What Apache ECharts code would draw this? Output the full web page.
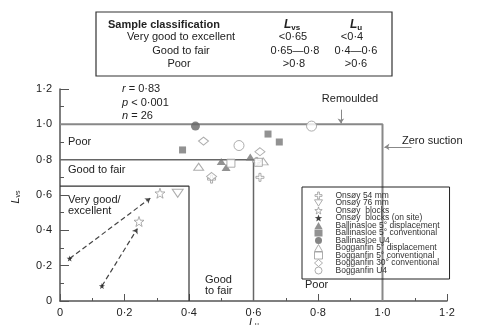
<!DOCTYPE html>
<html>
<head>
<meta charset="utf-8">
<script src="https://cdn.jsdelivr.net/npm/echarts@6/dist/echarts.min.js"></script>
<style>
  html, body { margin: 0; padding: 0; background: #fff; }
  #chart { width: 479px; height: 325px; }
</style>
</head>
<body>
<div id="chart"></div>
<script>
// Tick values on both axes
const tickValues = [0, 0.2, 0.4, 0.6, 0.8, 1.0, 1.2];

// Data points [Lu, Lvs]
const onsoy54 = [[0.47, 0.69], [0.61, 0.79], [0.62, 0.70]];
const onsoy76 = [[0.365, 0.61]];
const onsoyBlocks = [[0.31, 0.61], [0.245, 0.45]];
const onsoyOnSite = [[0.03, 0.24], [0.13, 0.085]];
const ball5disp = [[0.50, 0.79], [0.515, 0.755], [0.59, 0.815]];
const ball5conv = [[0.38, 0.855], [0.645, 0.945], [0.68, 0.90]];
const ballU4 = [[0.42, 0.99]];
const bog5disp = [[0.43, 0.76], [0.63, 0.79]];
const bog5conv = [[0.53, 0.78], [0.615, 0.785]];
const bog30conv = [[0.445, 0.905], [0.62, 0.845], [0.47, 0.705]];
const bogU4 = [[0.555, 0.88], [0.78, 0.99]];

// Arrows showing change from blocks on site to blocks
const arrowsFrom = [[0.03, 0.24], [0.13, 0.085]];
const arrowsTo = [[0.28, 0.582], [0.24, 0.41]];

// Classification boundaries
const zeroSuctionLine = [[0, 1.0], [1.0, 1.0], [1.0, 0]];
const goodFairLine = [[0, 0.8], [0.6, 0.8], [0.6, 0]];
const veryGoodLine = [[0, 0.65], [0.4, 0.65], [0.4, 0]];

const plusPath = 'path://M3,0L5,0L5,3L8,3L8,5L5,5L5,8L3,8L3,5L0,5L0,3L3,3Z';
const starPath = 'path://M5,0L6.2,3.5L10,3.6L7,5.9L8.1,9.5L5,7.4L1.9,9.5L3,5.9L0,3.6L3.8,3.5Z';
const downTriPath = 'path://M0,0L10,0L5,8Z';

const fmt = v => (v === 0 ? '0' : v.toFixed(1).replace('.', '·'));
const txtColor = '#222';
const font = 'Liberation Sans, Arial, sans-serif';

const chart = echarts.init(document.getElementById('chart'), null, { renderer: 'canvas' });

const openGrey = { color: '#fff', borderColor: '#999', borderWidth: 1 };
const fillGrey = { color: '#777', borderWidth: 0 };

// series definitions: name, data, symbol, size, style
const markerDefs = [
    ['Onsøy 54 mm', onsoy54, plusPath, 8, openGrey],
    ['Onsøy 76 mm', onsoy76, downTriPath, [11, 8], openGrey],
    ['Onsøy  blocks', onsoyBlocks, starPath, 10, openGrey],
    ['Onsøy  blocks (on site)', onsoyOnSite, starPath, 6, { color: '#111', borderWidth: 0 }],
    ['Ballinasloe 5° displacement', ball5disp, 'triangle', [9, 7], fillGrey],
    ['Ballinasloe 5° conventional', ball5conv, 'rect', 7, fillGrey],
    ['Ballinasloe U4', ballU4, 'circle', 9, { color: '#666', borderWidth: 0 }],
    ['Bogganfin 5° displacement', bog5disp, 'triangle', [10, 7], openGrey],
    ['Bogganfin 5° conventional', bog5conv, 'rect', 8, openGrey],
    ['Bogganfin 30° conventional', bog30conv, 'diamond', [10, 8], openGrey],
    ['Bogganfin U4', bogU4, 'circle', 10, openGrey]
];

function boundary(data, color, width) {
    return {
        type: 'line',
        data: data,
        symbol: 'none',
        silent: true,
        lineStyle: { color: color, width: width },
        z: 2
    };
}

const markerSeries = markerDefs.map(d => ({
    name: d[0],
    type: 'scatter',
    data: d[1],
    symbol: d[2],
    symbolSize: d[3],
    itemStyle: d[4],
    z: 5
}));

const legendData = markerDefs.map(d => ({
    name: d[0],
    icon: d[2],
    itemStyle: d[4]
}));

const option = {
    animation: false,
    textStyle: { fontFamily: font },
    grid: { left: 60, right: 32, top: 89, bottom: 24 },
    xAxis: {
        type: 'value',
        min: 0, max: 1.2, interval: 0.2,
        axisLine: { lineStyle: { color: '#555', width: 1.5 } },
        axisTick: { inside: true, length: 7, lineStyle: { color: '#555' } },
        minorTick: { show: true, splitNumber: 2, length: 3, lineStyle: { color: '#555' } },
        splitLine: { show: false },
        axisLabel: { formatter: fmt, color: txtColor, fontSize: 11, margin: 6, fontFamily: font }
    },
    yAxis: {
        type: 'value',
        min: 0, max: 1.2, interval: 0.2,
        axisLine: { show: true, lineStyle: { color: '#555', width: 1.5 } },
        axisTick: { show: true, inside: true, length: 9, lineStyle: { color: '#555' } },
        minorTick: { show: true, splitNumber: 2, length: 4, lineStyle: { color: '#555' } },
        splitLine: { show: false },
        axisLabel: { formatter: fmt, color: txtColor, fontSize: 11, margin: 8, fontFamily: font }
    },
    legend: {
        orient: 'vertical',
        left: 302, top: 187,
        padding: [4, 10, 4, 12],
        borderColor: '#222', borderWidth: 1,
        itemWidth: 8, itemHeight: 7, itemGap: -1.5,
        textStyle: { fontSize: 8.5, color: '#333', fontFamily: font, padding: [0, 0, 0, 8] },
        data: legendData
    },
    series: [
        boundary(zeroSuctionLine, '#888', 2),
        boundary(goodFairLine, '#666', 1.5),
        boundary(veryGoodLine, '#333', 1.2),
        {
            type: 'scatter',
            data: [],
            silent: true,
            markLine: {
                silent: true,
                symbol: ['none', 'arrow'],
                symbolSize: 5,
                label: { show: false },
                lineStyle: { color: '#444', type: [5, 3], width: 1.2 },
                data: arrowsFrom.map((p, i) => [{ coord: p }, { coord: arrowsTo[i] }])
            }
        },
        {
            type: 'scatter',
            data: [],
            silent: true,
            markLine: {
                silent: true,
                symbol: ['none', 'arrow'],
                symbolSize: 5,
                label: { show: false },
                lineStyle: { color: '#888', type: 'solid', width: 1 },
                data: [
                    [{ coord: [0.871, 1.083] }, { coord: [0.871, 1.005] }],
                    [{ coord: [1.09, 0.872] }, { coord: [1.006, 0.872] }]
                ]
            }
        }
    ].concat(markerSeries),
    graphic: [
        // classification table
        { type: 'rect', shape: { x: 96, y: 12, width: 296, height: 64 },
          style: { fill: '#fff', stroke: '#333', lineWidth: 1.2 } },
        { type: 'text', x: 108, y: 25, style: { text: 'Sample classification', font: 'bold 11px ' + font, fill: txtColor, verticalAlign: 'middle' } },
        { type: 'text', x: 292, y: 25, style: { text: '{l|L}{s|vs}', align: 'center', verticalAlign: 'middle',
            rich: { l: { font: 'italic bold 12px ' + font, fill: txtColor }, s: { font: 'bold 8px ' + font, fill: txtColor, padding: [6, 0, 0, 0] } } } },
        { type: 'text', x: 356, y: 25, style: { text: '{l|L}{s|u}', align: 'center', verticalAlign: 'middle',
            rich: { l: { font: 'italic bold 12px ' + font, fill: txtColor }, s: { font: 'bold 8px ' + font, fill: txtColor, padding: [6, 0, 0, 0] } } } },
        { type: 'text', x: 181, y: 37, style: { text: 'Very good to excellent', font: '11px ' + font, fill: txtColor, align: 'center', verticalAlign: 'middle' } },
        { type: 'text', x: 293, y: 37, style: { text: '<0·65', font: '11px ' + font, fill: txtColor, align: 'center', verticalAlign: 'middle' } },
        { type: 'text', x: 352, y: 37, style: { text: '<0·4', font: '11px ' + font, fill: txtColor, align: 'center', verticalAlign: 'middle' } },
        { type: 'text', x: 181, y: 51, style: { text: 'Good to fair', font: '11px ' + font, fill: txtColor, align: 'center', verticalAlign: 'middle' } },
        { type: 'text', x: 295, y: 51, style: { text: '0·65—0·8', font: '11px ' + font, fill: txtColor, align: 'center', verticalAlign: 'middle' } },
        { type: 'text', x: 356, y: 51, style: { text: '0·4—0·6', font: '11px ' + font, fill: txtColor, align: 'center', verticalAlign: 'middle' } },
        { type: 'text', x: 179, y: 64, style: { text: 'Poor', font: '11px ' + font, fill: txtColor, align: 'center', verticalAlign: 'middle' } },
        { type: 'text', x: 294, y: 64, style: { text: '>0·8', font: '11px ' + font, fill: txtColor, align: 'center', verticalAlign: 'middle' } },
        { type: 'text', x: 356, y: 64, style: { text: '>0·6', font: '11px ' + font, fill: txtColor, align: 'center', verticalAlign: 'middle' } },

        // statistics
        { type: 'text', x: 122, y: 89, style: { text: '{i|r} = 0·83', verticalAlign: 'middle', font: '11px ' + font, fill: txtColor, rich: { i: { font: 'italic 11px ' + font, fill: txtColor } } } },
        { type: 'text', x: 122, y: 103, style: { text: '{i|p} < 0·001', verticalAlign: 'middle', font: '11px ' + font, fill: txtColor, rich: { i: { font: 'italic 11px ' + font, fill: txtColor } } } },
        { type: 'text', x: 122, y: 116, style: { text: '{i|n} = 26', verticalAlign: 'middle', font: '11px ' + font, fill: txtColor, rich: { i: { font: 'italic 11px ' + font, fill: txtColor } } } },

        // zone labels
        { type: 'text', x: 68, y: 142, style: { text: 'Poor', font: '11px ' + font, fill: txtColor, verticalAlign: 'middle' } },
        { type: 'text', x: 68, y: 170, style: { text: 'Good to fair', font: '11px ' + font, fill: txtColor, verticalAlign: 'middle' } },
        { type: 'text', x: 68, y: 200, style: { text: 'Very good/', font: '11px ' + font, fill: txtColor, verticalAlign: 'middle' } },
        { type: 'text', x: 68, y: 211, style: { text: 'excellent', font: '11px ' + font, fill: txtColor, verticalAlign: 'middle' } },
        { type: 'text', x: 205, y: 280, style: { text: 'Good', font: '11px ' + font, fill: txtColor, verticalAlign: 'middle' } },
        { type: 'text', x: 205, y: 291, style: { text: 'to fair', font: '11px ' + font, fill: txtColor, verticalAlign: 'middle' } },
        { type: 'text', x: 305, y: 285, style: { text: 'Poor', font: '11px ' + font, fill: txtColor, verticalAlign: 'middle' } },
        { type: 'text', x: 350, y: 99, style: { text: 'Remoulded', font: '11px ' + font, fill: txtColor, align: 'center', verticalAlign: 'middle' } },
        { type: 'text', x: 402, y: 141, style: { text: 'Zero suction', font: '11px ' + font, fill: txtColor, verticalAlign: 'middle' } },

        // axis names
        { type: 'text', x: 16, y: 197, rotation: Math.PI / 2, style: { text: '{l|L}{s|vs}', align: 'center', verticalAlign: 'middle',
            rich: { l: { font: 'italic 11px ' + font, fill: txtColor }, s: { font: '7px ' + font, fill: txtColor, padding: [5, 0, 0, 0] } } } },
        { type: 'text', x: 254, y: 323, style: { text: '{l|L}{s|u}', align: 'center', verticalAlign: 'middle',
            rich: { l: { font: 'italic 11px ' + font, fill: txtColor }, s: { font: '7px ' + font, fill: txtColor, padding: [5, 0, 0, 0] } } } }
    ]
};

chart.setOption(option);
window.addEventListener('resize', chart.resize);
</script>
</body>
</html>
